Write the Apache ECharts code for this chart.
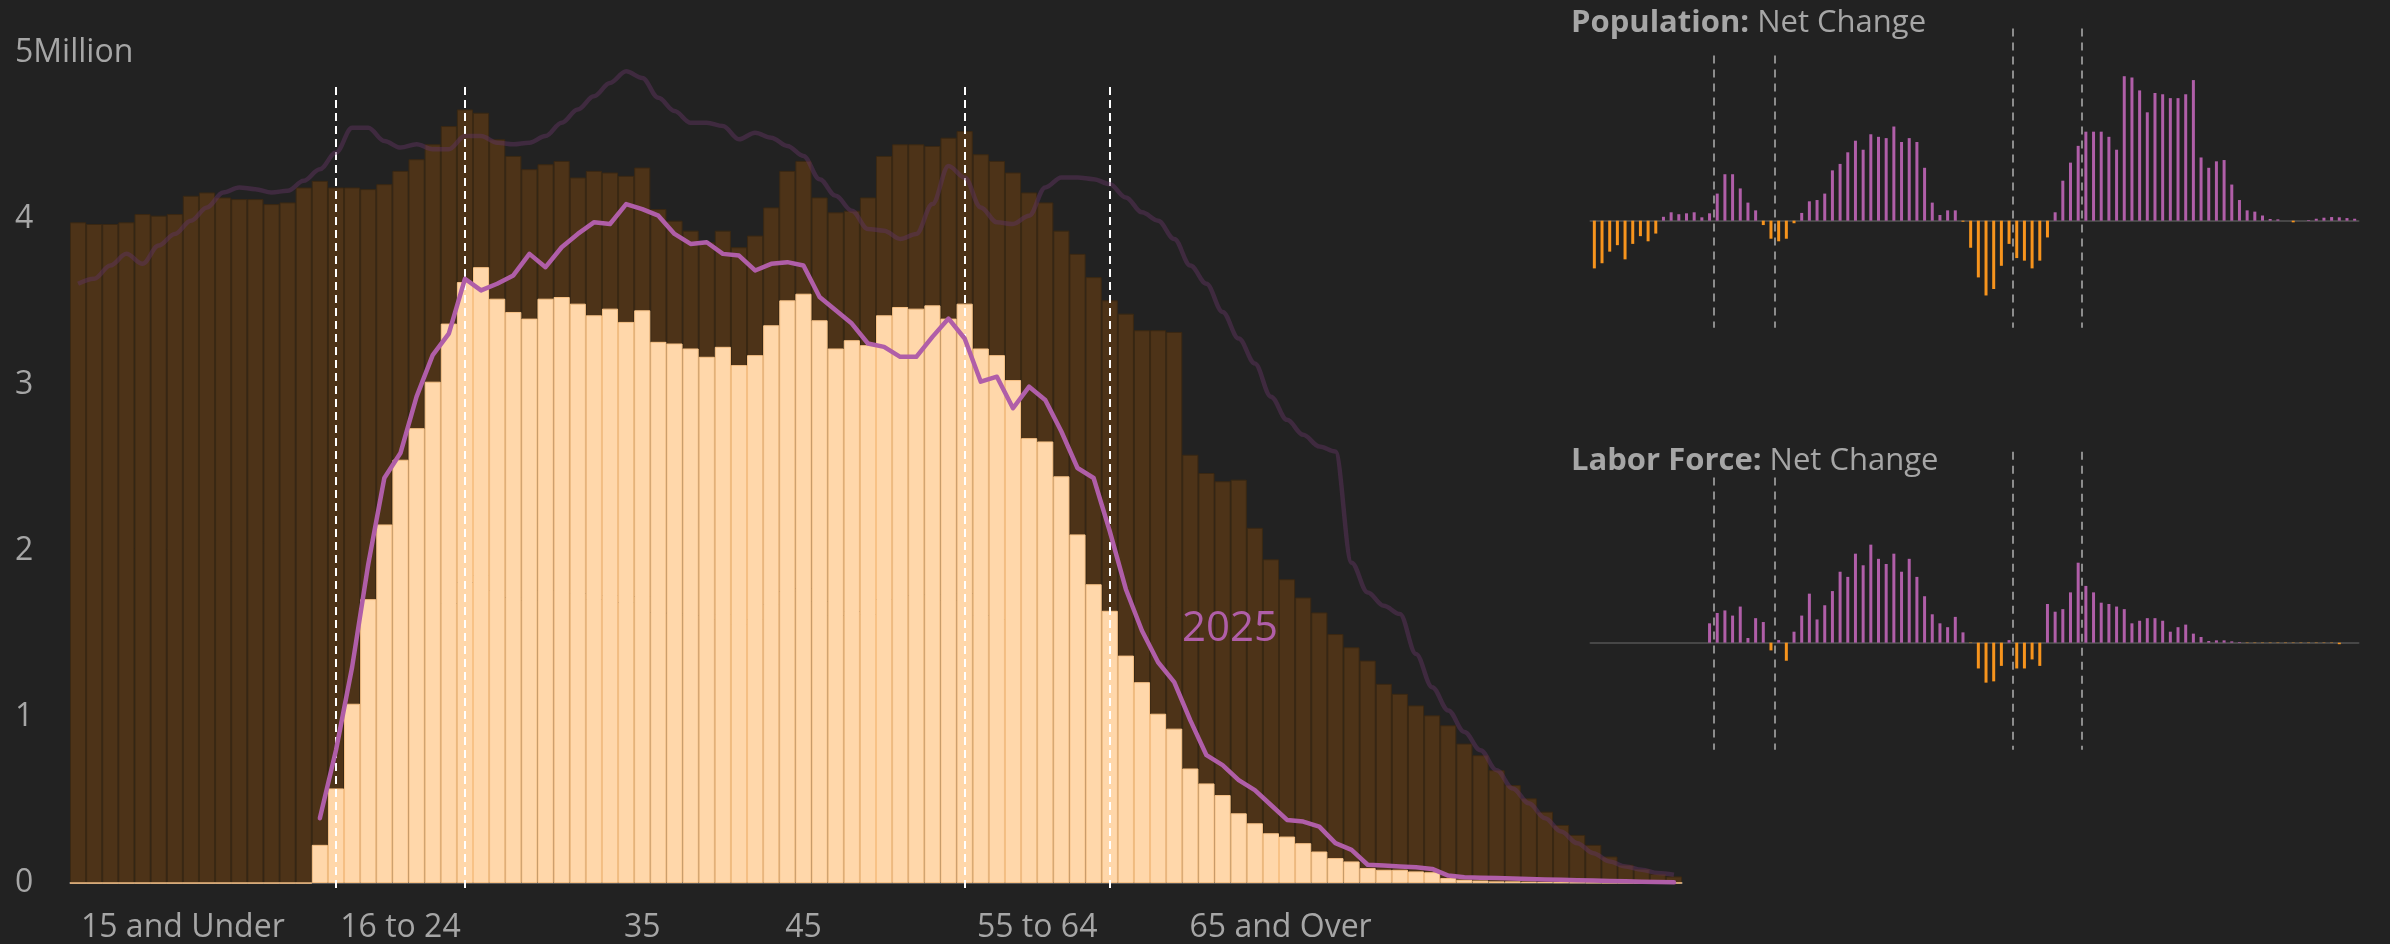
<!DOCTYPE html>
<html><head><meta charset="utf-8">
<script src="https://cdn.jsdelivr.net/npm/echarts@6/dist/echarts.min.js"></script>
<style>html,body{margin:0;padding:0;background:#222222;}#c{width:2390px;height:944px;}</style>
</head><body><div id="c"></div>
<script>
// ---------- DATA (millions of people, by single year of age) ----------
const ages = Array.from({length: 100}, (_, i) => i);

// Population (bars, earlier year)
const popBars = [3.98,3.97,3.97,3.98,4.03,4.02,4.03,4.14,4.16,4.13,
 4.12,4.12,4.09,4.10,4.19,4.23,4.19,4.19,4.18,4.21,
 4.29,4.36,4.45,4.56,4.66,4.64,4.48,4.38,4.30,4.33,
 4.35,4.25,4.29,4.28,4.26,4.31,4.06,3.99,3.93,3.86,
 3.93,3.83,3.90,4.07,4.29,4.35,4.13,4.04,4.05,4.13,
 4.38,4.45,4.45,4.44,4.49,4.53,4.39,4.35,4.28,4.16,
 4.10,3.93,3.79,3.65,3.51,3.43,3.33,3.33,3.32,2.58,
 2.47,2.42,2.43,2.14,1.95,1.83,1.72,1.63,1.50,1.42,
 1.34,1.20,1.14,1.07,1.01,0.95,0.84,0.77,0.68,0.59,
 0.51,0.43,0.35,0.29,0.23,0.16,0.11,0.085,0.055,0.04];

// Labor force (bars, earlier year)
const lfBars = [0,0,0,0,0,0,0,0,0,0,
 0,0,0,0,0,0.23,0.57,1.08,1.71,2.16,
 2.55,2.74,3.02,3.37,3.62,3.71,3.52,3.44,3.40,3.52,
 3.53,3.49,3.42,3.46,3.38,3.45,3.26,3.25,3.22,3.17,
 3.23,3.12,3.18,3.36,3.51,3.55,3.39,3.22,3.27,3.24,
 3.42,3.47,3.46,3.48,3.40,3.49,3.22,3.18,3.03,2.68,
 2.66,2.45,2.10,1.80,1.64,1.37,1.21,1.02,0.93,0.69,
 0.60,0.53,0.42,0.36,0.30,0.28,0.24,0.19,0.15,0.13,
 0.09,0.08,0.08,0.07,0.065,0.03,0.02,0.015,0.01,0.01,
 0.008,0.006,0.005,0.004,0.003,0.002,0.002,0.001,0.001,0.001];

// 2025 population (faint line)
const pop2025 = [3.61,3.64,3.72,3.79,3.73,3.84,3.91,3.99,4.07,4.16,
 4.19,4.18,4.16,4.17,4.23,4.30,4.40,4.55,4.55,4.47,
 4.43,4.45,4.42,4.42,4.50,4.50,4.46,4.45,4.46,4.50,
 4.58,4.66,4.74,4.82,4.89,4.85,4.73,4.65,4.58,4.58,
 4.56,4.48,4.52,4.49,4.44,4.38,4.24,4.14,4.05,3.94,
 3.93,3.88,3.91,4.09,4.32,4.25,4.07,3.98,3.97,4.02,
 4.19,4.25,4.25,4.24,4.21,4.13,4.04,3.99,3.88,3.72,
 3.61,3.44,3.28,3.13,2.93,2.79,2.70,2.63,2.60,1.93,
 1.75,1.67,1.62,1.38,1.18,1.04,0.91,0.80,0.68,0.57,
 0.48,0.39,0.31,0.24,0.18,0.13,0.10,0.08,0.06,0.05];

// 2025 labor force (purple line)
const lf2025 = [null,null,null,null,null,null,null,null,null,null,
 null,null,null,null,null,0.39,0.80,1.30,1.92,2.44,
 2.59,2.93,3.18,3.31,3.64,3.57,3.61,3.66,3.79,3.71,
 3.83,3.91,3.98,3.97,4.09,4.06,4.02,3.91,3.85,3.86,
 3.79,3.78,3.69,3.73,3.74,3.72,3.53,3.45,3.37,3.25,
 3.23,3.17,3.17,3.29,3.40,3.28,3.02,3.05,2.86,2.99,
 2.91,2.72,2.50,2.44,2.12,1.77,1.52,1.33,1.21,0.98,
 0.77,0.71,0.62,0.56,0.47,0.38,0.37,0.34,0.24,0.20,
 0.11,0.105,0.10,0.095,0.085,0.045,0.035,0.032,0.03,0.027,
 0.025,0.022,0.02,0.017,0.015,0.012,0.01,0.008,0.006,0.004];

// Population: net change
const popChange = [-0.37,-0.33,-0.24,-0.19,-0.30,-0.18,-0.12,-0.16,-0.10,0.03,
 0.065,0.05,0.057,0.065,0.026,0.057,0.21,0.36,0.36,0.25,
 0.14,0.08,-0.034,-0.14,-0.16,-0.14,-0.02,0.06,0.15,0.16,
 0.21,0.39,0.44,0.53,0.62,0.55,0.67,0.65,0.64,0.73,
 0.61,0.64,0.61,0.41,0.14,0.044,0.08,0.08,-0.008,-0.21,
 -0.44,-0.58,-0.53,-0.35,-0.18,-0.29,-0.31,-0.37,-0.31,-0.13,
 0.065,0.31,0.45,0.58,0.69,0.69,0.69,0.65,0.55,1.12,
 1.11,1.01,0.84,0.99,0.98,0.95,0.95,0.98,1.09,0.49,
 0.41,0.46,0.47,0.28,0.16,0.08,0.07,0.04,0.013,0.01,
 0,-0.013,0,0.005,0.015,0.023,0.028,0.026,0.02,0.015];

// Labor force: net change
const lfChange = [0,0,0,0,0,0,0,0,0,0,
 0,0,0,0,0,0.15,0.23,0.25,0.21,0.28,
 0.036,0.19,0.16,-0.06,0.02,-0.14,0.085,0.21,0.38,0.18,
 0.29,0.40,0.55,0.51,0.69,0.60,0.76,0.65,0.61,0.69,
 0.55,0.65,0.51,0.36,0.22,0.15,0.12,0.20,0.08,-0.003,
 -0.20,-0.31,-0.30,-0.18,0.02,-0.20,-0.20,-0.13,-0.18,0.30,
 0.24,0.26,0.39,0.62,0.44,0.39,0.31,0.30,0.28,0.26,
 0.15,0.17,0.19,0.19,0.17,0.085,0.12,0.14,0.07,0.044,
 0.013,0.018,0.018,0.01,0.005,-0.003,-0.003,-0.003,-0.003,-0.003,
 -0.003,-0.003,-0.003,-0.003,-0.003,-0.003,-0.003,-0.012,0,0];

// Axis labels
const xLabelPos = [6.5, 20, 35, 45, 59.5, 74.6];
const xLabels = ['15 and Under', '16 to 24', '35', '45', '55 to 64', '65 and Over'];
const yTicks = [0, 1, 2, 3, 4, 5];
const groupBounds = [16, 24, 55, 64];

// ---------- STYLE ----------
const FONT = "'Open Sans', 'Noto Sans', sans-serif";
const TXT = '#a6a6a6';
const PURPLE = '#B05EA8';
const ORANGE = '#F7941D';
const Y_MIN = -0.048;   // lets the dashed guides run a few pixels below the baseline

const chart = echarts.init(document.getElementById('c'), null, {renderer: 'canvas'});

function mainDashes() {
  return groupBounds.map(a => [{coord: [a, 4.795]}, {coord: [a, Y_MIN]}]);
}
function panelDashes(tops) {
  return groupBounds.map((a, k) => [{coord: [a - 0.5, tops[k]]}, {coord: [a - 0.5, -0.83]}]);
}
const panelBarColor = p => (p.value[1] >= 0 ? PURPLE : ORANGE);
const titleStyle = {color: TXT, fontSize: 31, fontWeight: 'normal', fontFamily: FONT,
  rich: {b: {color: TXT, fontSize: 31, fontWeight: 'bold', fontFamily: FONT}}};

const option = {
  backgroundColor: '#222222',
  animation: false,
  textStyle: {fontFamily: FONT},
  title: [
    {left: 1566, top: 3, text: '{b|Population:} Net Change', textStyle: titleStyle},
    {left: 1566, top: 441, text: '{b|Labor Force:} Net Change', textStyle: titleStyle}
  ],
  graphic: [
    {type: 'text', left: 1182, top: 608, z: 10,
     style: {text: '2025', fill: PURPLE, font: "42px 'Open Sans', sans-serif"}}
  ],
  grid: [
    {left: 70, top: 53, width: 1612, height: 838},
    {left: 1590.5, top: 14.3, width: 768, height: 316},
    {left: 1590.5, top: 436.3, width: 768, height: 316}
  ],
  xAxis: [
    {type: 'category', gridIndex: 0, data: ages, boundaryGap: true,
     axisLine: {show: true, onZero: true, lineStyle: {color: '#5a5a5a', width: 2}},
     axisTick: {show: false}, axisLabel: {show: false}, splitLine: {show: false}},
    {type: 'value', gridIndex: 0, min: -0.5, max: 99.5, position: 'bottom',
     axisLine: {show: true, onZero: true, lineStyle: {color: 'rgba(0,0,0,0)', width: 0}},
     axisTick: {show: false}, splitLine: {show: false},
     axisLabel: {show: true, customValues: xLabelPos, color: TXT, fontSize: 32,
       fontFamily: FONT, margin: 21, hideOverlap: false,
       formatter: v => {
         let best = 0;
         xLabelPos.forEach((p, i) => { if (Math.abs(p - v) < Math.abs(xLabelPos[best] - v)) best = i; });
         return xLabels[best];
       }}},
    {type: 'value', gridIndex: 1, min: -0.5, max: 99.5,
     axisLine: {show: true, onZero: true, lineStyle: {color: '#474747', width: 2}},
     axisTick: {show: false}, axisLabel: {show: false}, splitLine: {show: false}},
    {type: 'value', gridIndex: 2, min: -0.5, max: 99.5,
     axisLine: {show: true, onZero: true, lineStyle: {color: '#474747', width: 2}},
     axisTick: {show: false}, axisLabel: {show: false}, splitLine: {show: false}}
  ],
  yAxis: [
    {type: 'value', gridIndex: 0, min: Y_MIN, max: 5,
     axisLine: {show: false}, axisTick: {show: false}, splitLine: {show: false},
     axisLabel: {show: true, customValues: yTicks, color: TXT, fontSize: 32, fontFamily: FONT,
       align: 'left', margin: 55,
       formatter: v => (v === yTicks[yTicks.length - 1] ? v + 'Million' : String(v))}},
    {type: 'value', gridIndex: 1, min: -0.85, max: 1.6, show: false, splitLine: {show: false}},
    {type: 'value', gridIndex: 2, min: -0.85, max: 1.6, show: false, splitLine: {show: false}}
  ],
  series: [
    {name: 'Population', type: 'bar', xAxisIndex: 0, yAxisIndex: 0, data: popBars,
     barGap: '-100%', barCategoryGap: '0%', z: 1,
     itemStyle: {color: '#4D3318', borderColor: '#3A2813', borderWidth: 1}},
    {name: 'Labor Force', type: 'bar', xAxisIndex: 0, yAxisIndex: 0, data: lfBars,
     barGap: '-100%', barCategoryGap: '0%', z: 2,
     itemStyle: {color: '#FFD7AA', borderColor: '#F8C286', borderWidth: 1},
     markLine: {silent: true, symbol: ['none', 'none'], z: 3, label: {show: false},
       lineStyle: {color: '#ffffff', width: 2, type: [8, 5]}, data: mainDashes()}},
    {name: 'Population 2025', type: 'line', xAxisIndex: 0, yAxisIndex: 0, data: pop2025,
     smooth: 0.35, smoothMonotone: 'x', showSymbol: false, symbol: 'none', z: 3,
     lineStyle: {color: 'rgba(96,52,96,0.47)', width: 4.5}},
    {name: 'Labor Force 2025', type: 'line', xAxisIndex: 0, yAxisIndex: 0, data: lf2025,
     showSymbol: false, symbol: 'none', z: 5, connectNulls: false,
     lineStyle: {color: PURPLE, width: 4.5, join: 'round', cap: 'round'}},
    {name: 'Population Net Change', type: 'bar', xAxisIndex: 2, yAxisIndex: 1,
     data: popChange.map((v, i) => [ages[i], v]), barWidth: 3, z: 2,
     itemStyle: {color: panelBarColor},
     markLine: {silent: true, symbol: ['none', 'none'], label: {show: false},
       lineStyle: {color: '#8c8c8c', width: 2, type: [8, 6]}, data: panelDashes([1.28, 1.28, 1.49, 1.49])}},
    {name: 'Labor Force Net Change', type: 'bar', xAxisIndex: 3, yAxisIndex: 2,
     data: lfChange.map((v, i) => [ages[i], v]), barWidth: 3, z: 2,
     itemStyle: {color: panelBarColor},
     markLine: {silent: true, symbol: ['none', 'none'], label: {show: false},
       lineStyle: {color: '#8c8c8c', width: 2, type: [8, 6]}, data: panelDashes([1.28, 1.28, 1.48, 1.48])}}
  ]
};
chart.setOption(option);
</script></body></html>
